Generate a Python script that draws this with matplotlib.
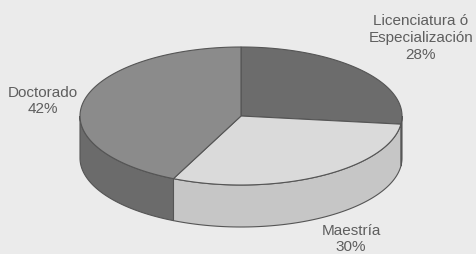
import numpy as np
import matplotlib
matplotlib.use("Agg")
import matplotlib.pyplot as plt
from matplotlib.patches import Polygon

plt.rcParams['font.family'] = ['Liberation Sans', 'DejaVu Sans']

# datos
categorias = ['Licenciatura ó\nEspecialización', 'Maestría', 'Doctorado']
porcentajes = [28, 30, 42]
colores_sup = ['#6c6c6c', '#dadada', '#8b8b8b']
colores_lado = ['#c6c6c6', '#c6c6c6', '#6b6b6b']
pos_etiquetas = [(421, 38), (351, 239), (43, 101)]

# geometria del pastel (pixeles)
cx, cy, a, b, prof = 241, 117, 161, 69, 42
giro = 4  # el pastel de excel viene un poco girado

fig = plt.figure(figsize=(4.76, 2.55), dpi=100)
fig.patch.set_facecolor('#ebebeb')
ax = fig.add_axes([0, 0, 1, 1])
ax.set_xlim(0, 476)
ax.set_ylim(255, 0)
ax.axis('off')


def punto(t, dy=0):
    return cx + a * np.cos(np.radians(t)), cy - b * np.sin(np.radians(t)) + dy


# angulos, empezando arriba y en sentido horario
inicio = 90.0
rangos = []
for p in porcentajes:
    fin = inicio - p / 100 * 360
    rangos.append((inicio, fin))
    inicio = fin
rangos = [(t0 + giro if t0 != 90 else t0, t1 + giro if t1 != -270 else t1)
          for t0, t1 in rangos]

# caras laterales (solo la mitad frontal)
for (t0, t1), col in zip(rangos, colores_lado):
    for off in (0, -360):
        h, l = min(t0 + off, 0), max(t1 + off, -180)
        if h <= l:
            continue
        ts = np.linspace(h, l, 80)
        arriba = [punto(t) for t in ts]
        abajo = [punto(t, prof) for t in ts[::-1]]
        ax.add_patch(Polygon(arriba + abajo, closed=True, facecolor=col,
                             edgecolor='#555555', lw=0.8, zorder=1))

# caras superiores
for (t0, t1), col in zip(rangos, colores_sup):
    ts = np.linspace(t0, t1, 150)
    pts = [(cx, cy)] + [punto(t) for t in ts]
    ax.add_patch(Polygon(pts, closed=True, facecolor=col,
                         edgecolor='#555555', lw=0.8, zorder=2))

# etiquetas
for cat, p, (x, y) in zip(categorias, porcentajes, pos_etiquetas):
    ax.text(x, y, f'{cat}\n{p}%', ha='center', va='center', fontsize=11,
            color='#5e5e5e', linespacing=1.25)

fig.savefig('out.png', dpi=100, facecolor=fig.get_facecolor())
